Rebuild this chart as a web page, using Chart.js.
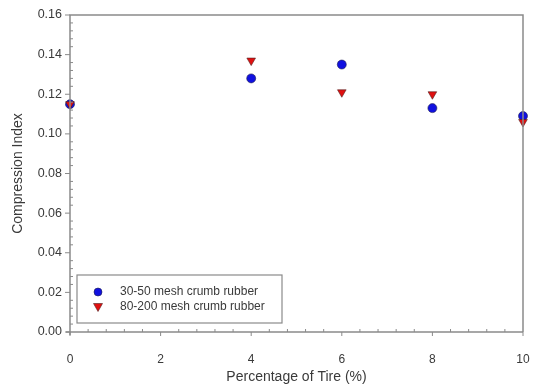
<!DOCTYPE html>
<html>
<head>
<meta charset="utf-8">
<script src="https://cdn.jsdelivr.net/npm/chart.js@4.4.0/dist/chart.umd.min.js"></script>
<style>
html,body{margin:0;padding:0;background:#fff;}
#wrap{width:538px;height:388px;position:relative;}
</style>
</head>
<body>
<div id="wrap"><canvas id="c" width="538" height="388"></canvas></div>
<script>
const tirePercent = [0, 4, 6, 8, 10];
const mesh3050 = [0.115, 0.128, 0.135, 0.113, 0.109];
const mesh80200 = [0.115, 0.137, 0.121, 0.120, 0.106];
const seriesLabels = ['30-50 mesh crumb rubber', '80-200 mesh crumb rubber'];
const xTicks = [0, 2, 4, 6, 8, 10];
const yTicks = [0.00, 0.02, 0.04, 0.06, 0.08, 0.10, 0.12, 0.14, 0.16];

const axisColor = '#8a8a8a';
const textColor = '#3a3a3a';
const FONT = "'Liberation Sans', Arial, sans-serif";

const framePlugin = {
  id: 'frame',
  afterDatasetsDraw(chart) {
    const ctx = chart.ctx, a = chart.chartArea;
    const xs = chart.scales.x, ys = chart.scales.y;
    ctx.save();
    ctx.strokeStyle = axisColor;
    ctx.lineWidth = 1.5;
    ctx.beginPath();
    ctx.moveTo(a.left, a.bottom + 3); ctx.lineTo(a.left, a.top);
    ctx.lineTo(a.right, a.top); ctx.lineTo(a.right, a.bottom);
    ctx.moveTo(a.left - 4, a.bottom); ctx.lineTo(a.right, a.bottom);
    ctx.stroke();
    ctx.lineWidth = 1;
    ctx.beginPath();
    for (let i = 0; i < yTicks.length; i++) {
      const p = ys.getPixelForValue(yTicks[i]);
      ctx.moveTo(a.left - 5, p); ctx.lineTo(a.left, p);
      if (i < yTicks.length - 1) {
        const step = (yTicks[i + 1] - yTicks[i]) / 5;
        for (let k = 1; k < 5; k++) {
          const q = ys.getPixelForValue(yTicks[i] + k * step);
          ctx.moveTo(a.left, q); ctx.lineTo(a.left + 3, q);
        }
      }
    }
    for (let i = 0; i < xTicks.length; i++) {
      const p = xs.getPixelForValue(xTicks[i]);
      ctx.moveTo(p, a.bottom); ctx.lineTo(p, a.bottom + 4);
      if (i < xTicks.length - 1) {
        const step = (xTicks[i + 1] - xTicks[i]) / 5;
        for (let k = 1; k < 5; k++) {
          const q = xs.getPixelForValue(xTicks[i] + k * step);
          ctx.moveTo(q, a.bottom); ctx.lineTo(q, a.bottom - 3);
        }
      }
    }
    ctx.stroke();

    const bx = a.left + 7, by = a.bottom - 57, bw = 205, bh = 48;
    ctx.strokeStyle = '#8a8a8a';
    ctx.lineWidth = 1.2;
    ctx.strokeRect(bx, by, bw, bh);
    ctx.font = '12px ' + FONT;
    ctx.textBaseline = 'middle';
    ctx.textAlign = 'left';
    const rows = [by + 17, by + 32];
    chart.data.datasets.forEach((ds, i) => {
      const mx = bx + 21, my = rows[i];
      ctx.fillStyle = ds.backgroundColor;
      ctx.strokeStyle = ds.borderColor;
      ctx.lineWidth = 0.6;
      ctx.beginPath();
      if (i === 0) {
        ctx.arc(mx, my, 4, 0, Math.PI * 2);
      } else {
        ctx.moveTo(mx - 4.5, my - 3.5); ctx.lineTo(mx + 4.5, my - 3.5); ctx.lineTo(mx, my + 4.5); ctx.closePath();
      }
      ctx.fill(); ctx.stroke();
      ctx.fillStyle = textColor;
      ctx.fillText(seriesLabels[i], bx + 43, my);
    });
    ctx.restore();
  }
};

new Chart(document.getElementById('c'), {
  type: 'scatter',
  data: {
    datasets: [
      {
        label: seriesLabels[0],
        data: tirePercent.map((x, i) => ({ x: x, y: mesh3050[i] })),
        pointStyle: 'circle', pointRadius: 4.5,
        backgroundColor: '#1010e0', borderColor: '#202050', borderWidth: 0.6,
        clip: false, order: 1
      },
      {
        label: seriesLabels[1],
        data: tirePercent.map((x, i) => ({ x: x, y: mesh80200[i] })),
        pointStyle: 'triangle', pointRotation: 180, pointRadius: 5,
        backgroundColor: '#e01010', borderColor: '#502020', borderWidth: 0.6,
        clip: false, order: 0
      }
    ]
  },
  options: {
    responsive: false,
    animation: false,
    layout: { padding: { top: 15, right: 15, left: 0, bottom: 0 } },
    plugins: { legend: { display: false }, tooltip: { enabled: false } },
    scales: {
      x: {
        type: 'linear', min: 0, max: 10,
        grid: { display: false }, border: { display: false },
        afterBuildTicks(s) { s.ticks = xTicks.map(v => ({ value: v })); },
        ticks: { padding: 12, color: textColor, font: { family: FONT, size: 12 }, callback: v => String(v), maxRotation: 0 },
        title: { display: true, text: 'Percentage of Tire (%)', color: textColor, font: { family: FONT, size: 14 }, padding: { top: 0, bottom: 2 } },
        afterFit(s) { s.height = 56; s.paddingRight = 0; s.paddingLeft = 0; }
      },
      y: {
        type: 'linear', min: 0, max: 0.16,
        grid: { display: false }, border: { display: false },
        afterBuildTicks(s) { s.ticks = yTicks.map(v => ({ value: v })); },
        ticks: { padding: 0, color: textColor, font: { family: FONT, size: 12.5 }, callback: v => Number(v).toFixed(2) },
        title: { display: true, text: 'Compression Index', color: textColor, font: { family: FONT, size: 14 }, padding: { top: 10, bottom: 0 } },
        afterFit(s) { s.width = 70; s.paddingTop = 0; s.paddingBottom = 0; }
      }
    }
  },
  plugins: [framePlugin]
});
</script>
</body>
</html>
